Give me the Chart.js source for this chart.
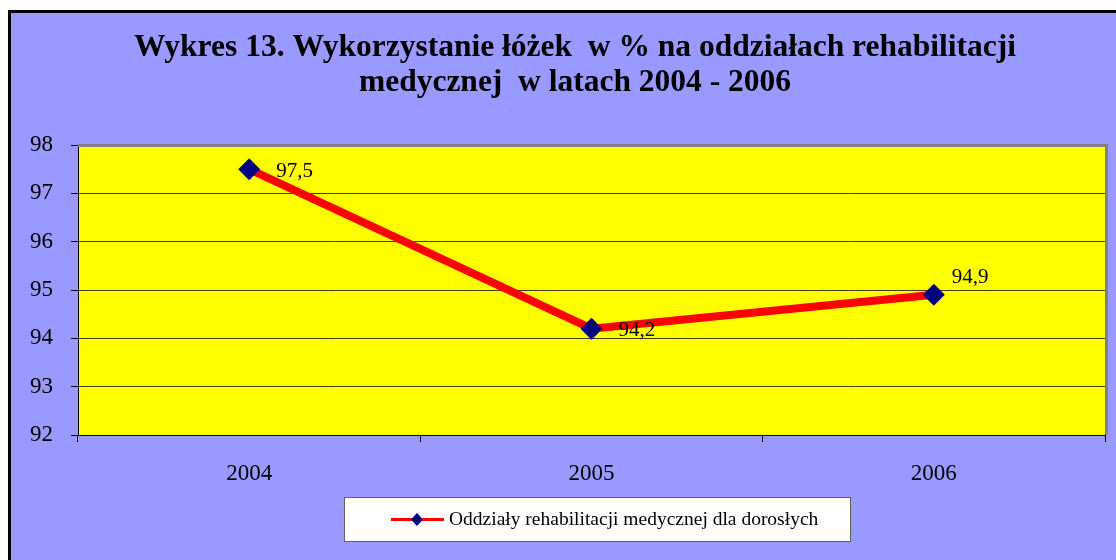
<!DOCTYPE html>
<html>
<head>
<meta charset="utf-8">
<script src="https://cdn.jsdelivr.net/npm/chart.js@4/dist/chart.umd.min.js"></script>
<style>
  body { margin: 0; background: #fff; }
  canvas { display: block; }
</style>
</head>
<body>
<canvas id="chart" width="1116" height="560"></canvas>
<script>
// Data
var years = ['2004', '2005', '2006'];
var usage = [97.5, 94.2, 94.9];
var seriesName = 'Oddziały rehabilitacji medycznej dla dorosłych';
var titleLines = ['Wykres 13. Wykorzystanie łóżek  w % na oddziałach rehabilitacji', 'medycznej  w latach 2004 - 2006'];
var yMin = 92, yMax = 98;

var SERIF = "'Liberation Serif', 'Times New Roman', serif";

// Background, plot area, title, value labels, legend box
var framePlugin = {
    id: 'frame',
    beforeDraw: function (chart) {
        var ctx = chart.ctx, a = chart.chartArea;
        ctx.save();
        ctx.fillStyle = '#ffffff';
        ctx.fillRect(0, 0, chart.width, chart.height);
        ctx.fillStyle = '#9999ff';
        ctx.fillRect(9, 11, chart.width, chart.height);
        ctx.strokeStyle = '#000';
        ctx.lineWidth = 3;
        ctx.strokeRect(9.5, 11.5, chart.width + 10, chart.height + 10);
        ctx.fillStyle = '#ffff00';
        ctx.fillRect(a.left, a.top, a.right - a.left, a.bottom - a.top);
        ctx.fillStyle = '#000';
        ctx.font = 'bold 31.5px ' + SERIF;
        ctx.textAlign = 'center';
        ctx.textBaseline = 'alphabetic';
        ctx.fillText(titleLines[0], 575, 56);
        ctx.fillText(titleLines[1], 575, 91);
        ctx.restore();
    },
    beforeDatasetsDraw: function (chart) {
        var ctx = chart.ctx, a = chart.chartArea;
        ctx.save();
        ctx.strokeStyle = '#808080';
        ctx.lineWidth = 3;
        ctx.beginPath();
        ctx.moveTo(a.left, a.top + 0.5);
        ctx.lineTo(a.right + 1.5, a.top + 0.5);
        ctx.lineTo(a.right + 1.5, a.bottom);
        ctx.stroke();
        ctx.restore();
    },
    afterDatasetsDraw: function (chart) {
        // value labels next to the points
        var ctx = chart.ctx;
        var pts = chart.getDatasetMeta(0).data;
        ctx.save();
        ctx.fillStyle = '#000';
        ctx.font = '21px ' + SERIF;
        ctx.textAlign = 'left';
        ctx.textBaseline = 'middle';
        pts.forEach(function (p, i) {
            var txt = String(usage[i]).replace('.', ',');
            if (i === pts.length - 1) {
                ctx.fillText(txt, p.x + 18, p.y - 17);
            } else {
                ctx.fillText(txt, p.x + 27, p.y + 2);
            }
        });
        ctx.restore();
    },
    afterDraw: function (chart) {
        // legend box
        var ctx = chart.ctx;
        ctx.save();
        ctx.fillStyle = '#fff';
        ctx.fillRect(344, 497, 506, 44);
        ctx.strokeStyle = '#606060';
        ctx.lineWidth = 1;
        ctx.strokeRect(344.5, 497.5, 506, 44);
        ctx.strokeStyle = '#ff0000';
        ctx.lineWidth = 3;
        ctx.beginPath();
        ctx.moveTo(391, 519.5);
        ctx.lineTo(444, 519.5);
        ctx.stroke();
        ctx.fillStyle = '#000080';
        ctx.beginPath();
        ctx.moveTo(417, 513);
        ctx.lineTo(423, 519.5);
        ctx.lineTo(417, 526);
        ctx.lineTo(411, 519.5);
        ctx.closePath();
        ctx.fill();
        ctx.fillStyle = '#000';
        ctx.font = '19.5px ' + SERIF;
        ctx.textBaseline = 'middle';
        ctx.fillText(seriesName, 449, 520);
        ctx.restore();
    }
};

new Chart(document.getElementById('chart'), {
    type: 'line',
    data: {
        labels: years,
        datasets: [{
            label: seriesName,
            data: usage,
            borderColor: '#ff0000',
            borderWidth: 8,
            pointStyle: 'rectRot',
            pointRadius: 11,
            pointHoverRadius: 11,
            pointBackgroundColor: '#000080',
            pointBorderColor: '#000080',
            pointBorderWidth: 0,
            tension: 0
        }]
    },
    options: {
        responsive: false,
        animation: false,
        devicePixelRatio: 1,
        layout: { padding: { top: 145, right: 0, bottom: 0, left: 0 } },
        plugins: {
            legend: { display: false },
            title: { display: false },
            tooltip: { enabled: false }
        },
        scales: {
            x: {
                offset: true,
                grid: { offset: true, drawOnChartArea: false, drawTicks: true, tickLength: 7, tickColor: '#000' },
                border: { color: '#000', width: 1 },
                ticks: { color: '#000', padding: 18, font: { family: SERIF, size: 23 } },
                afterFit: function (s) { s.height = 125; }
            },
            y: {
                min: yMin,
                max: yMax,
                ticks: { stepSize: 1, color: '#000', padding: 18, font: { family: SERIF, size: 23 } },
                grid: { color: '#404000', tickColor: '#000', tickLength: 7 },
                border: { color: '#000', width: 1 },
                afterFit: function (s) { s.width = 78; }
            }
        }
    },
    plugins: [framePlugin]
});
</script>
</body>
</html>
